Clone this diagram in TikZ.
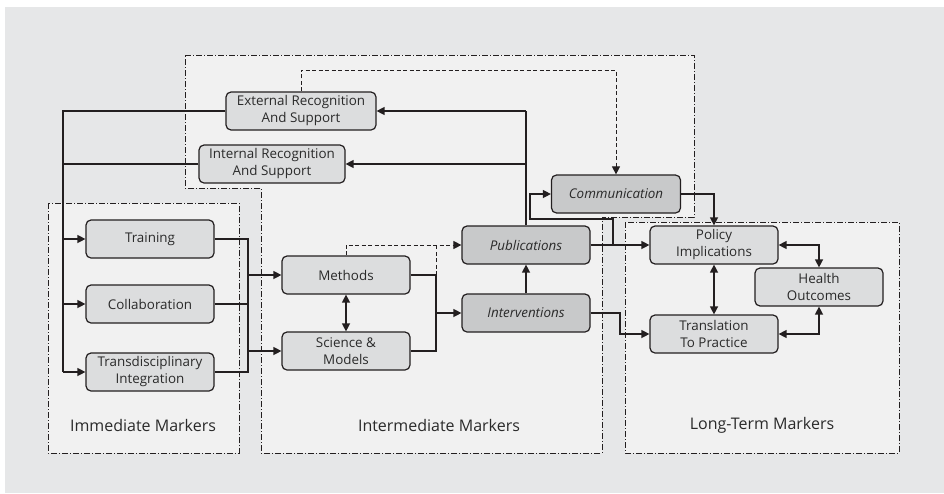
\documentclass[tikz,border=0pt]{standalone}
\usepackage{fontspec}
\setmainfont{Open Sans}
\usetikzlibrary{arrows.meta}
\definecolor{bg}{HTML}{E6E7E8}
\definecolor{panel}{HTML}{F1F1F1}
\definecolor{boxlight}{HTML}{DCDDDE}
\definecolor{boxdark}{HTML}{C8C9CA}
\definecolor{ink}{HTML}{231F20}
\definecolor{txt}{HTML}{2A2A2A}
\begin{document}
\begin{tikzpicture}[x=1pt,y=-1pt,
  box/.style={draw=ink, line width=1.2pt, rounded corners=5pt, fill=boxlight,
    minimum width=128pt, minimum height=38pt, inner sep=0pt, align=center,
    text=txt, font=\fontsize{13.4}{17}\selectfont},
  darkbox/.style={box, fill=boxdark, font=\fontsize{13.4}{17}\selectfont\itshape},
  panelline/.style={draw=ink, line width=0.7pt,
    dash pattern=on 6pt off 2pt on 1pt off 2pt, fill=panel},
  marker/.style={text=txt, font=\fontsize{16}{19}\selectfont},
  link/.style={draw=ink, line width=1.3pt},
  tip/.style={-{Triangle[length=8pt,width=8pt]}},
  arr/.style={link, tip},
  darr/.style={link, {Triangle[length=8pt,width=8pt]}-{Triangle[length=8pt,width=8pt]}},
  dlink/.style={draw=ink, line width=1pt, dash pattern=on 4pt off 2.5pt}
]
% canvas
\useasboundingbox (0,0) rectangle (944,493);
\fill[white] (0,0) rectangle (944,493);
\fill[bg] (5,7) rectangle (944,493);

% panels
\path[panelline] (185,55) -- (694,55) -- (694,217) -- (602,217) -- (602,453)
  -- (261,453) -- (261,188) -- (185,188) -- cycle;
\path[panelline] (48,203) rectangle (239,453);
\path[panelline] (625,222) rectangle (899,453);

\node[marker] (immlab) at (143,425) {Immediate Markers};
\node[marker] (intlab) at (439,425) {Intermediate Markers};
\node[marker] (ltlab) at (762,425) {Long-Term Markers};

% boxes
\node[box, minimum width=150pt] (ext) at (301,111) {External Recognition\\And Support};
\node[box, minimum width=146pt] (inner) at (272,164) {Internal Recognition\\And Support};
\node[box] (train) at (150,239) {Training};
\node[box] (collab) at (150,304) {Collaboration};
\node[box] (trans) at (150,372) {Transdisciplinary\\Integration};
\node[box] (meth) at (346,275) {Methods};
\node[box] (sci) at (346,351) {Science \&\\Models};
\node[darkbox] (pub) at (526,245) {Publications};
\node[darkbox] (interv) at (526,313) {Interventions};
\node[darkbox, minimum width=129pt] (comm) at (616,194) {Communication};
\node[box] (policy) at (714,245) {Policy\\Implications};
\node[box] (transl) at (714,334) {Translation\\To Practice};
\node[box] (health) at (819,287) {Health\\Outcomes};

% left bus: recognition feeds immediate markers
\coordinate (lbT) at (63,111);
\coordinate (lbB) at (63,372);
\draw[link] (ext.west) -- (lbT) -- (lbB);
\draw[link] (inner.west) -- (inner.west -| lbT);
\draw[arr] (lbT |- train.west) -- (train.west);
\draw[arr] (lbT |- collab.west) -- (collab.west);
\draw[arr] (lbB) -- (trans.west);

% immediate markers feed methods and science
\coordinate (rbT) at (248,239);
\coordinate (rbB) at (248,372);
\draw[link] (train.east) -- (rbT) -- (rbB) -- (trans.east);
\draw[link] (collab.east) -- (collab.east -| rbT);
\draw[arr] (rbT |- meth.west) -- (meth.west);
\draw[arr] (rbT |- sci.west) -- (sci.west);
\draw[darr] (meth.south) -- (sci.north);

% methods and science feed interventions / publications
\coordinate (mbT) at (436,275);
\coordinate (mbB) at (436,351);
\draw[link] (meth.east) -- (mbT) -- (mbB) -- (sci.east);
\draw[arr] (mbT |- interv.west) -- (interv.west);
\draw[dlink] (mbT) -- (mbT |- pub.west);
\draw[dlink, tip] (meth.north) |- (pub.west);
\draw[arr] (interv.north) -- (pub.south);

% publications feed recognition
\coordinate (pubUp) at (526,111);
\draw[link] (pub.north) -- (pubUp);
\draw[arr] (pubUp) -- (ext.east);
\draw[arr] (pubUp |- inner.east) -- (inner.east);

% publications to policy and communication
\draw[arr] (pub.east) -- (policy.west);
\coordinate (pc1) at (613,245);
\coordinate (pc2) at (530,219);
\draw[arr] (pc1) |- (pc2) |- (comm.west);
\draw[arr] (comm.east) -| (policy.north);
\coordinate (dtop) at (301,70);
\draw[dlink, tip] (ext.north) -- (dtop) -| (comm.north);

% interventions to practice
\coordinate (it) at (620,313);
\draw[arr] (interv.east) -- (it) |- (transl.west);

% long-term markers
\draw[darr] (policy.south) -- (transl.north);
\draw[darr] (policy.east) -| (health.north);
\draw[darr] (transl.east) -| (health.south);
\end{tikzpicture}
\end{document}
